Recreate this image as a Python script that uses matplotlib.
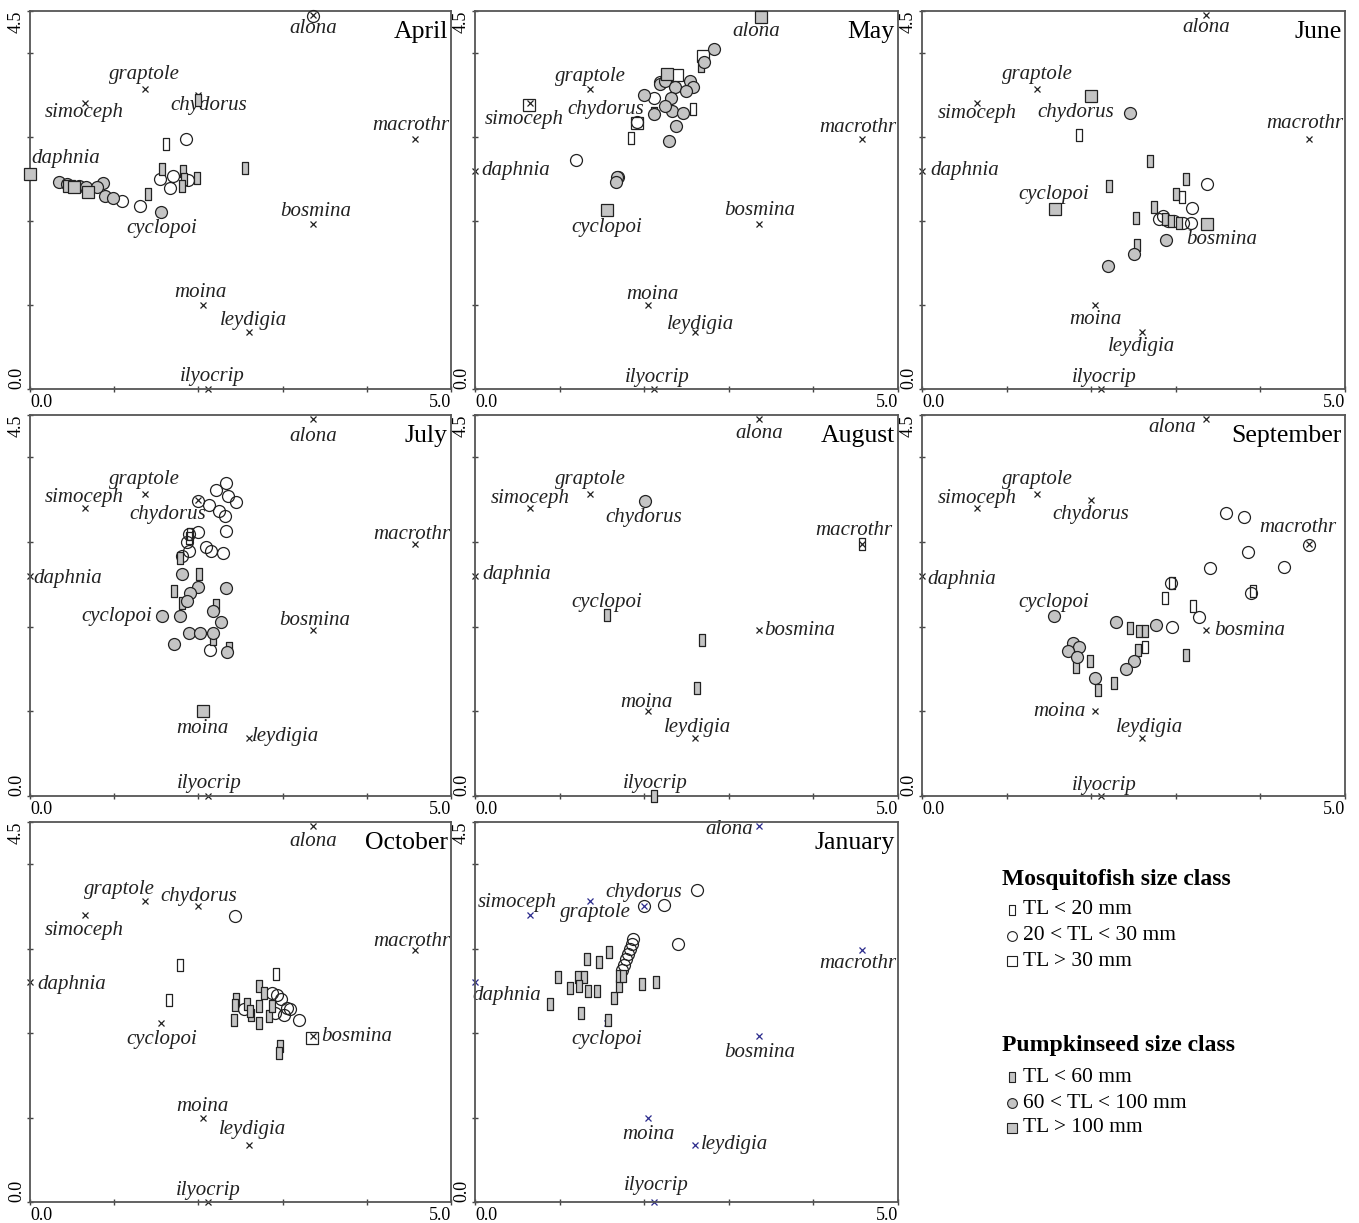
import numpy as np
import matplotlib
matplotlib.use("Agg")
import matplotlib.pyplot as plt
from matplotlib.path import Path

plt.rcParams['font.family'] = ['Liberation Serif', 'DejaVu Serif']

# species scores (same in every panel)
species = ['alona', 'graptole', 'simoceph', 'chydorus', 'macrothr', 'daphnia',
           'cyclopoi', 'bosmina', 'moina', 'leydigia', 'ilyocrip']
species_x = [3.36, 1.36, 0.65, 2.00, 4.57, 0.00, 1.56, 3.36, 2.05, 2.60, 2.11]
species_y = [4.45, 3.57, 3.40, 3.50, 2.98, 2.60, 2.12, 1.96, 1.00, 0.68, 0.00]

months = ['April', 'May', 'June', 'July', 'August', 'September', 'October', 'January']

# fish sample scores per month, (x, y)
# ms/mm/ml = mosquitofish <20, 20-30, >30 mm ; ps/pm/pl = pumpkinseed <60, 60-100, >100 mm
apr_ms = [(1.62, 2.92)]
apr_mm = [(1.09, 2.24), (1.31, 2.18), (1.54, 2.50), (1.70, 2.53), (1.66, 2.39),
          (1.88, 2.49), (1.85, 2.98), (3.36, 4.44)]
apr_ml = []
apr_ps = [(1.40, 2.32), (1.57, 2.62), (1.82, 2.60), (1.83, 2.50), (1.80, 2.42),
          (1.98, 2.51), (2.55, 2.63), (2.00, 3.44)]
apr_pm = [(0.35, 2.46), (0.44, 2.44), (0.58, 2.42), (0.67, 2.40), (0.87, 2.45),
          (0.79, 2.40), (0.89, 2.30), (0.99, 2.27), (1.56, 2.11)]
apr_pl = [(0.00, 2.56), (0.46, 2.42), (0.52, 2.40), (0.69, 2.35)]

may_ms = [(1.84, 2.99), (2.58, 3.33)]
may_mm = [(1.19, 2.73), (2.11, 3.46), (1.91, 3.18), (2.19, 3.65), (1.69, 2.52)]
may_ml = [(0.64, 3.38), (2.69, 3.96), (2.39, 3.74), (1.91, 3.17)]
may_ps = [(2.67, 3.84), (2.12, 3.29)]
may_pm = [(2.83, 4.05), (2.71, 3.89), (2.00, 3.50), (2.19, 3.63), (2.25, 3.67),
          (2.36, 3.60), (2.54, 3.67), (2.58, 3.59), (2.49, 3.55), (2.32, 3.46),
          (2.12, 3.27), (2.33, 3.31), (2.46, 3.28), (2.38, 3.13), (2.29, 2.95),
          (1.68, 2.52), (1.67, 2.47), (2.25, 3.37)]
may_pl = [(3.38, 4.43), (1.56, 2.13), (2.27, 3.75)]

jun_ms = [(1.85, 3.02), (3.07, 2.29)]
jun_mm = [(3.37, 2.44), (3.19, 2.16), (2.80, 2.02), (2.85, 2.06), (2.91, 2.00),
          (2.98, 2.00), (3.08, 1.98), (3.18, 1.98)]
jun_ml = []
jun_ps = [(2.69, 2.72), (2.21, 2.42), (3.12, 2.50), (3.00, 2.32), (2.74, 2.17),
          (2.53, 2.04), (2.54, 1.71), (2.87, 2.02), (2.94, 2.00), (3.04, 1.98)]
jun_pm = [(2.46, 3.29), (2.89, 1.77), (2.51, 1.61), (2.20, 1.46)]
jun_pl = [(2.00, 3.49), (1.57, 2.14), (3.37, 1.96)]

jul_ms = [(1.90, 3.10), (1.89, 3.05)]
jul_mm = [(2.33, 3.70), (2.21, 3.62), (2.35, 3.54), (2.45, 3.47), (2.00, 3.48),
          (2.13, 3.44), (2.24, 3.37), (2.31, 3.31), (2.00, 3.12), (2.33, 3.13),
          (1.89, 3.10), (1.86, 3.00), (2.09, 2.94), (2.15, 2.89), (2.29, 2.87),
          (1.89, 2.89), (1.80, 2.83), (2.14, 1.72)]
jul_ml = []
jul_ps = [(2.01, 2.62), (1.71, 2.42), (1.81, 2.28), (2.21, 2.26), (2.17, 1.86),
          (2.36, 1.75), (1.78, 2.81)]
jul_pm = [(1.80, 2.62), (2.00, 2.47), (1.90, 2.40), (1.87, 2.30), (2.33, 2.46),
          (1.57, 2.13), (1.78, 2.13), (2.17, 2.18), (2.27, 2.06), (1.89, 1.92),
          (2.02, 1.92), (2.17, 1.92), (1.71, 1.79), (2.34, 1.70)]
jul_pl = [(2.06, 1.00)]

aug_ms = [(4.58, 2.98)]
aug_mm = []
aug_ml = []
aug_ps = [(1.56, 2.14), (2.68, 1.84), (2.63, 1.28), (2.11, 0.00)]
aug_pm = [(2.01, 3.49)]
aug_pl = []

sep_ms = [(2.96, 2.51), (2.87, 2.34), (3.20, 2.25), (3.91, 2.42), (2.64, 1.76)]
sep_mm = [(3.59, 3.34), (3.81, 3.30), (3.85, 2.88), (3.41, 2.69), (4.28, 2.71),
          (4.57, 2.96), (2.94, 2.51), (3.89, 2.40), (3.27, 2.11), (2.96, 2.00)]
sep_ml = []
sep_ps = [(2.46, 1.98), (2.56, 1.95), (2.64, 1.95), (2.55, 1.73), (1.98, 1.60),
          (1.82, 1.52), (2.08, 1.25), (2.27, 1.34), (3.12, 1.66)]
sep_pm = [(1.56, 2.13), (2.29, 2.06), (2.77, 2.02), (1.78, 1.81), (1.85, 1.76),
          (1.72, 1.71), (1.83, 1.64), (2.05, 1.39), (2.51, 1.59), (2.41, 1.50)]
sep_pl = []

oct_ms = [(1.78, 2.81), (1.65, 2.39), (2.92, 2.70)]
oct_mm = [(2.43, 3.39), (2.54, 2.28), (2.88, 2.48), (2.93, 2.45), (2.98, 2.40),
          (3.05, 2.30), (3.02, 2.22), (3.19, 2.16), (3.09, 2.28), (2.91, 2.24)]
oct_ml = [(3.35, 1.94)]
oct_ps = [(2.45, 2.40), (2.43, 2.33), (2.42, 2.16), (2.58, 2.34), (2.62, 2.21),
          (2.72, 2.56), (2.78, 2.48), (2.72, 2.32), (2.72, 2.12), (2.84, 2.20),
          (2.97, 1.85), (2.96, 1.76), (2.87, 2.32), (2.61, 2.26)]
oct_pm = []
oct_pl = []

jan_ms = []
jan_mm = [(2.63, 3.69), (2.23, 3.52), (2.00, 3.50), (2.40, 3.06), (1.87, 3.12),
          (1.85, 3.06), (1.83, 3.00), (1.81, 2.94), (1.79, 2.88), (1.76, 2.81),
          (1.74, 2.75)]
jan_ml = []
jan_ps = [(1.58, 2.96), (1.32, 2.88), (1.47, 2.84), (0.98, 2.67), (1.22, 2.67),
          (1.29, 2.67), (1.12, 2.54), (1.23, 2.56), (1.34, 2.50), (1.44, 2.50),
          (0.89, 2.35), (1.25, 2.24), (1.57, 2.15), (1.64, 2.42), (1.70, 2.56),
          (1.70, 2.68), (1.75, 2.68), (1.97, 2.58), (2.14, 2.61)]
jan_pm = []
jan_pl = []

fish = {
    'April': [apr_ms, apr_mm, apr_ml, apr_ps, apr_pm, apr_pl],
    'May': [may_ms, may_mm, may_ml, may_ps, may_pm, may_pl],
    'June': [jun_ms, jun_mm, jun_ml, jun_ps, jun_pm, jun_pl],
    'July': [jul_ms, jul_mm, jul_ml, jul_ps, jul_pm, jul_pl],
    'August': [aug_ms, aug_mm, aug_ml, aug_ps, aug_pm, aug_pl],
    'September': [sep_ms, sep_mm, sep_ml, sep_ps, sep_pm, sep_pl],
    'October': [oct_ms, oct_mm, oct_ml, oct_ps, oct_pm, oct_pl],
    'January': [jan_ms, jan_mm, jan_ml, jan_ps, jan_pm, jan_pl],
}

# label placement relative to the species point (data units), as drawn by CANOCO
label_off = {
    'April': {'alona': (0, -0.16), 'graptole': (0, 0.18), 'simoceph': (0, -0.11),
              'chydorus': (0.12, -0.12), 'macrothr': (-0.05, 0.16), 'daphnia': (0.42, 0.15),
              'bosmina': (0.03, 0.15), 'cyclopoi': (0, -0.21), 'moina': (-0.03, 0.15),
              'leydigia': (0.06, 0.13), 'ilyocrip': (0.05, 0.15)},
    'May': {'alona': (-0.04, -0.19), 'graptole': (0, 0.15), 'simoceph': (-0.07, -0.19),
            'chydorus': (-0.45, -0.17), 'macrothr': (-0.04, 0.13), 'daphnia': (0.48, 0),
            'bosmina': (0, 0.17), 'cyclopoi': (0, -0.2), 'moina': (0.05, 0.13),
            'leydigia': (0.07, 0.09), 'ilyocrip': (0.05, 0.14)},
    'June': {'alona': (0, -0.15), 'graptole': (0, 0.18), 'simoceph': (0, -0.12),
             'chydorus': (-0.18, -0.21), 'macrothr': (-0.05, 0.18), 'daphnia': (0.5, 0),
             'bosmina': (0.18, -0.18), 'cyclopoi': (0, 0.2), 'moina': (0, -0.17),
             'leydigia': (0, -0.18), 'ilyocrip': (0.04, 0.14)},
    'July': {'alona': (0, -0.2), 'graptole': (0, 0.17), 'simoceph': (0, 0.12),
             'chydorus': (-0.37, -0.17), 'macrothr': (-0.04, 0.11), 'daphnia': (0.45, -0.03),
             'bosmina': (0.02, 0.11), 'cyclopoi': (-0.53, 0), 'moina': (0, -0.2),
             'leydigia': (0.43, 0.02), 'ilyocrip': (0.02, 0.15)},
    'August': {'alona': (0, -0.17), 'graptole': (0, 0.17), 'simoceph': (0, 0.11),
               'chydorus': (0, -0.21), 'macrothr': (-0.09, 0.16), 'daphnia': (0.49, 0.02),
               'bosmina': (0.48, 0), 'cyclopoi': (0, 0.17), 'moina': (-0.02, 0.11),
               'leydigia': (0.03, 0.13), 'ilyocrip': (0.02, 0.15)},
    'September': {'alona': (-0.4, -0.1), 'graptole': (0, 0.17), 'simoceph': (0, 0.11),
                  'chydorus': (0, -0.17), 'macrothr': (-0.13, 0.19), 'daphnia': (0.47, -0.04),
                  'bosmina': (0.51, 0), 'cyclopoi': (0, 0.17), 'moina': (-0.43, 0),
                  'leydigia': (0.09, 0.13), 'ilyocrip': (0.05, 0.12)},
    'October': {'alona': (0, -0.18), 'graptole': (-0.3, 0.13), 'simoceph': (0, -0.18),
                'chydorus': (0, 0.12), 'macrothr': (-0.04, 0.1), 'daphnia': (0.5, -0.02),
                'bosmina': (0.52, 0), 'cyclopoi': (0, -0.2), 'moina': (0, 0.13),
                'leydigia': (0.04, 0.18), 'ilyocrip': (0.01, 0.14)},
    'January': {'alona': (-0.35, -0.04), 'graptole': (0.06, -0.14), 'simoceph': (-0.15, 0.15),
                'chydorus': (0, 0.17), 'macrothr': (-0.05, -0.15), 'daphnia': (0.38, -0.15),
                'bosmina': (0, -0.19), 'cyclopoi': (0, -0.2), 'moina': (0, -0.2),
                'leydigia': (0.47, 0), 'ilyocrip': (0.03, 0.19)},
}

W, H = 1359, 1223
GREY = '#c4c4c4'
rect = Path([(-0.28, -0.5), (0.28, -0.5), (0.28, 0.5), (-0.28, 0.5), (-0.28, -0.5)],
            [Path.MOVETO, Path.LINETO, Path.LINETO, Path.LINETO, Path.CLOSEPOLY])
# marker, size, face for the six size classes (mosquitofish symbols are hollow)
styles = [(rect, 8.5, 'none'), ('o', 8.6, 'none'), ('s', 8.0, 'none'),
          (rect, 8.5, GREY), ('o', 8.6, GREY), ('s', 8.0, GREY)]

cols = [(30, 451), (475, 898), (922, 1345)]
rows = [(11, 389), (415, 796), (822, 1202)]


def px_axes(c, r):
    x0, x1 = cols[c]
    y0, y1 = rows[r]
    return fig.add_axes([x0 / W, 1 - y1 / H, (x1 - x0) / W, (y1 - y0) / H])


fig = plt.figure(figsize=(W / 100, H / 100), dpi=100)

for i, month in enumerate(months):
    ax = px_axes(i % 3, i // 3)
    ax.set_xlim(0, 5)
    ax.set_ylim(0, 4.5)
    ax.set_xticks([0, 1, 2, 3, 4, 5])
    ax.set_yticks([0, 1, 2, 3, 4, 4.5])
    ax.set_xticklabels([])
    ax.set_yticklabels([])
    ax.tick_params(direction='inout', length=4, width=1, color='#444')
    for sp in ax.spines.values():
        sp.set_color('#555')
        sp.set_linewidth(1.3)

    # end labels of the axes
    ax.text(-0.012, 1.0, '4.5', transform=ax.transAxes, rotation=90,
            ha='right', va='top', fontsize=13)
    ax.text(-0.012, 0.0, '0.0', transform=ax.transAxes, rotation=90,
            ha='right', va='bottom', fontsize=13)
    ax.text(0.0, -0.012, '0.0', transform=ax.transAxes, ha='left', va='top', fontsize=13)
    ax.text(1.0, -0.012, '5.0', transform=ax.transAxes, ha='right', va='top', fontsize=13)

    ax.text(0.992, 0.945, month, transform=ax.transAxes, ha='right', va='center',
            fontsize=18.5, zorder=6)

    # species labels (only macrothr runs into the frame and gets cut)
    offs = label_off[month]
    for name, sx, sy in zip(species, species_x, species_y):
        dx, dy = offs[name]
        ax.text(sx + dx, sy + dy, name, style='italic', fontsize=15,
                ha='center', va='center', color='#222', zorder=2,
                clip_on=(name == 'macrothr'))

    xcol = '#2b2b8c' if month == 'January' else '#222'
    ax.plot(species_x, species_y, ls='none', marker='x', ms=4.5, mew=0.9,
            color=xcol, zorder=2.5, clip_on=False)

    # fish samples
    for pts, (mk, ms, fc) in zip(fish[month], styles):
        if not pts:
            continue
        arr = np.array(pts)
        ax.plot(arr[:, 0], arr[:, 1], ls='none', marker=mk, ms=ms, mfc=fc,
                mec='#222', mew=0.9, zorder=3, clip_on=False)

# legend panel
lax = fig.add_axes([0, 0, 1, 1])
lax.set_xlim(0, W)
lax.set_ylim(H, 0)
lax.axis('off')

leg_groups = [
    ('Mosquitofish size class', 880, ['TL < 20 mm', '20 < TL < 30 mm', 'TL > 30 mm'],
     styles[:3], [910, 936, 961]),
    ('Pumpkinseed size class', 1046, ['TL < 60 mm', '60 < TL < 100 mm', 'TL > 100 mm'],
     styles[3:], [1077, 1103, 1128]),
]
for title, ty, texts, sts, ys in leg_groups:
    lax.text(1002, ty, title, fontsize=17, fontweight='bold', ha='left', va='center')
    for txt, (mk, ms, fc), y in zip(texts, sts, ys):
        lax.plot([1012], [y], ls='none', marker=mk, ms=ms * 0.82, mfc=fc,
                 mec='#222', mew=0.8)
        lax.text(1023, y, txt, fontsize=15.5, ha='left', va='center')

fig.savefig('out.png', dpi=100)
